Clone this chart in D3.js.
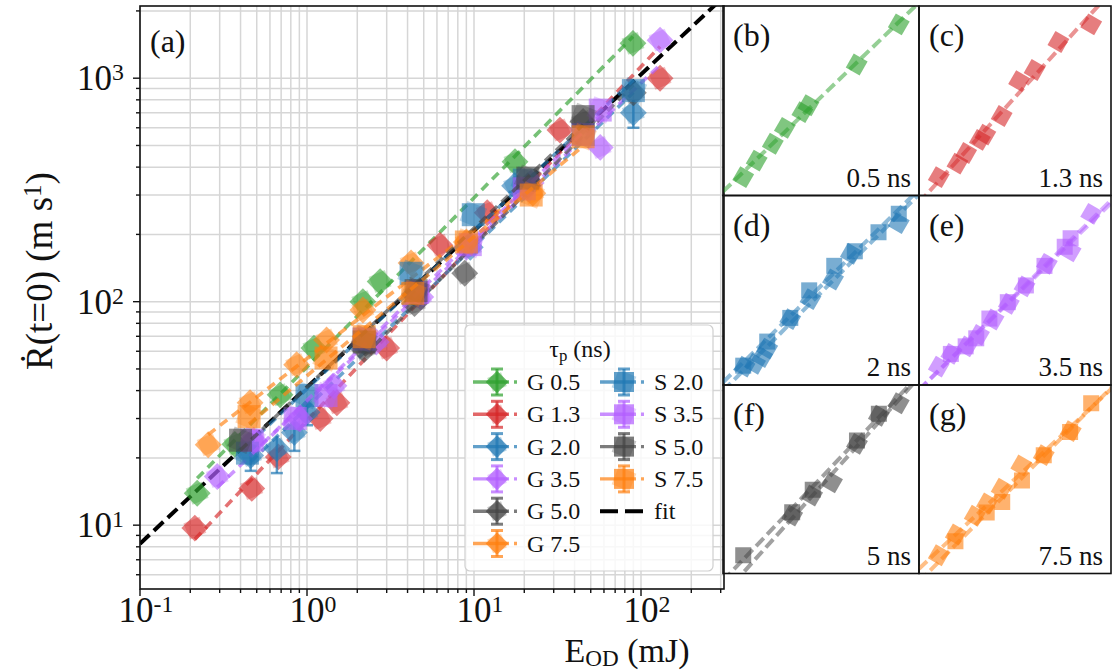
<!DOCTYPE html>
<html>
<head>
<meta charset="utf-8">
<script src="https://cdn.jsdelivr.net/npm/d3@7"></script>
<style>
  body { margin: 0; background: #fff; }
  svg { display: block; }
</style>
</head>
<body>
<div id="chart"></div>
<script>
// ---- data ----
const E_G05 = [0.22, 0.37, 0.69, 1.1, 2.16, 2.74, 17.6, 89.5];
const R_G05 = [13.9, 23, 38.3, 62, 100, 123, 423, 1432];

const E_G13 = [0.213, 0.467, 0.673, 1.2, 1.51, 3.0, 6.25, 12, 32.7, 130];
const R_G13 = [9.7, 14.6, 20.2, 30, 35.3, 62, 179, 250, 586, 1000];

const E_G20 = [0.46, 0.66, 0.84, 1.0, 2.2, 4.4, 9.5, 17.5, 90];
const R_G20 = [20.5, 22, 26, 32, 66, 108, 175, 330, 700];
const R_G20_lo = [17.5, 17.1, 21.5, 28, 60, 100, 165, 310, 600];
const R_G20_hi = [23, 25, 29, 36, 72, 116, 186, 350, 800];

const E_G35 = [0.29, 0.48, 0.9, 1.45, 2.6, 4.8, 9, 22, 57, 130];
const R_G35 = [16.5, 24, 30, 42, 66, 105, 175, 340, 490, 1480];

const E_G50 = [2.2, 4.4, 8.8, 21, 45, 90];
const R_G50 = [61, 98, 134, 330, 640, 860];

const E_G75 = [0.256, 0.456, 0.867, 1.31, 2.16, 4.2, 9.0, 22.5];
const R_G75 = [22.9, 35.3, 52.2, 67.4, 91.8, 149, 185, 306];

const E_S20 = [0.44, 1.0, 2.2, 4.2, 9.9, 20, 45, 90];
const R_S20 = [21, 38, 68, 134, 245, 350, 560, 880];

const E_S35 = [0.47, 0.85, 1.3, 2.2, 4.6, 9.5, 20, 45, 57];
const R_S35 = [24, 30, 38, 68, 110, 180, 320, 560, 720];

const E_S50 = [0.4, 2.2, 4.5, 21, 45];
const R_S50 = [24, 66, 112, 357, 673];

const E_S75 = [0.45, 1.3, 2.2, 4.3, 9.0, 22, 45];
const R_S75 = [30.6, 56, 69.7, 109, 185, 300, 547];

// global fit  R = fitA * E^fitB
const fitA = 41.4;
const fitB = 0.70;

const seriesNames  = ["G 0.5", "G 1.3", "G 2.0", "G 3.5", "G 5.0", "G 7.5", "S 2.0", "S 3.5", "S 5.0", "S 7.5"];
const seriesColors = ["#2ca02c", "#d62728", "#1f77b4", "#b25eff", "#444444", "#ff7f0e",
                      "#1f77b4", "#b25eff", "#444444", "#ff7f0e"];
const seriesE = [E_G05, E_G13, E_G20, E_G35, E_G50, E_G75, E_S20, E_S35, E_S50, E_S75];
const seriesR = [R_G05, R_G13, R_G20, R_G35, R_G50, R_G75, R_S20, R_S35, R_S50, R_S75];

const xTickPowers = [-1, 0, 1, 2];
const yTickPowers = [1, 2, 3];

// small panels: label, pulse-length tag, series shown
const panelLabels = ["(b)", "(c)", "(d)", "(e)", "(f)", "(g)"];
const panelTags   = ["0.5 ns", "1.3 ns", "2 ns", "3.5 ns", "5 ns", "7.5 ns"];
const panelSeries = [["G 0.5"], ["G 1.3"], ["G 2.0", "S 2.0"], ["G 3.5", "S 3.5"], ["G 5.0", "S 5.0"], ["G 7.5", "S 7.5"]];

const FONT = "'Liberation Serif', 'Times New Roman', Times, serif";

// ---- helpers ----
function fitLog(E, R) {
  const lx = E.map(Math.log10), ly = R.map(Math.log10);
  const mx = d3.mean(lx), my = d3.mean(ly);
  const b = d3.sum(lx.map((v, i) => (v - mx) * (ly[i] - my))) / d3.sum(lx.map(v => (v - mx) ** 2));
  return { a: Math.pow(10, my - b * mx), b };
}

const series = seriesNames.map((name, i) => ({
  name,
  color: seriesColors[i],
  shape: name[0] === "G" ? "diamond" : "square",
  pts: seriesE[i].map((e, j) => ({ e, r: seriesR[i][j] })),
  fit: fitLog(seriesE[i], seriesR[i])
}));

function markerPath(size) {
  return d3.symbol().type(d3.symbolSquare).size(size * size)();
}

function powLabel(sel, p) {
  sel.append("tspan").text("10");
  sel.append("tspan").attr("dy", "-0.42em").attr("font-size", "0.68em").text(p < 0 ? "-" + (-p) : p);
}

// ---- svg ----
const W = 1115, H = 672;
const svg = d3.select("#chart").append("svg").attr("width", W).attr("height", H)
  .attr("font-family", FONT).style("font-family", FONT).attr("fill", "#111");

// main panel (a)
const M = { left: 140, right: 724, top: 6, bottom: 589 };
const x = d3.scaleLog().domain([0.1, 314]).range([M.left, M.right]);
const y = d3.scaleLog().domain([5.18, 2104]).range([M.bottom, M.top]);

svg.append("clipPath").attr("id", "clipA")
  .append("rect").attr("x", M.left).attr("y", M.top)
  .attr("width", M.right - M.left).attr("height", M.bottom - M.top);

// grid (major + minor)
const grid = svg.append("g").attr("stroke", "#d6d6d6").attr("stroke-width", 1.5);
x.ticks().forEach(t => {
  grid.append("line").attr("x1", x(t)).attr("x2", x(t)).attr("y1", M.top).attr("y2", M.bottom);
});
y.ticks().forEach(t => {
  grid.append("line").attr("y1", y(t)).attr("y2", y(t)).attr("x1", M.left).attr("x2", M.right);
});

// ticks
const isMajor = t => Math.abs(Math.log10(t) - Math.round(Math.log10(t))) < 1e-9;
const ticks = svg.append("g").attr("stroke", "#111").attr("stroke-width", 1.4);
x.ticks().forEach(t => {
  ticks.append("line").attr("x1", x(t)).attr("x2", x(t))
    .attr("y1", M.bottom).attr("y2", M.bottom + (isMajor(t) ? 7 : 4));
});
y.ticks().forEach(t => {
  ticks.append("line").attr("y1", y(t)).attr("y2", y(t))
    .attr("x1", M.left).attr("x2", M.left - (isMajor(t) ? 7 : 4));
});

xTickPowers.forEach(p => {
  svg.append("text").attr("x", x(Math.pow(10, p)) + 6).attr("y", 622)
    .attr("text-anchor", "middle").attr("font-size", 35)
    .call(powLabel, p);
});
yTickPowers.forEach(p => {
  svg.append("text").attr("x", 124).attr("y", y(Math.pow(10, p)) + 12)
    .attr("text-anchor", "end").attr("font-size", 35)
    .call(powLabel, p);
});

// axis labels
const xl = svg.append("text").attr("x", 627).attr("y", 662).attr("text-anchor", "middle").attr("font-size", 34);
xl.append("tspan").text("E");
xl.append("tspan").attr("font-size", "0.68em").attr("dy", "0.18em").text("OD");
xl.append("tspan").attr("dy", "-0.12em").text(" (mJ)");

const yl = svg.append("text").attr("transform", "translate(52,271) rotate(-90)")
  .attr("text-anchor", "middle").attr("font-size", 37);
yl.append("tspan").text("Ṙ(t=0) (m s");
yl.append("tspan").attr("font-size", "0.68em").attr("dy", "-0.45em").text("1");
yl.append("tspan").attr("dy", "0.3em").text(")");

// data layer
const plotA = svg.append("g").attr("clip-path", "url(#clipA)");

// global fit
const fitLine = d3.line().x(d => x(d)).y(d => y(fitA * Math.pow(d, fitB)));
plotA.append("path").datum([0.1, 314]).attr("d", fitLine)
  .attr("fill", "none").attr("stroke", "#000").attr("stroke-width", 4)
  .attr("stroke-dasharray", "13,6");

series.forEach(s => {
  const g = plotA.append("g");
  const [e0, e1] = d3.extent(s.pts, d => d.e);
  g.append("path").datum([e0, e1])
    .attr("d", d3.line().x(d => x(d)).y(d => y(s.fit.a * Math.pow(d, s.fit.b))))
    .attr("fill", "none").attr("stroke", s.color).attr("stroke-width", 3.6)
    .attr("stroke-opacity", 0.65).attr("stroke-dasharray", "9,6");
  if (s.name === "G 2.0") {
    g.selectAll("line.err").data(s.pts).join("line")
      .attr("x1", d => x(d.e)).attr("x2", d => x(d.e))
      .attr("y1", (d, j) => y(R_G20_lo[j])).attr("y2", (d, j) => y(R_G20_hi[j]))
      .attr("stroke", s.color).attr("stroke-width", 2.5).attr("stroke-opacity", 0.7);
    g.selectAll("line.cap").data(s.pts).join("line")
      .attr("x1", d => x(d.e) - 6).attr("x2", d => x(d.e) + 6)
      .attr("y1", (d, j) => y(R_G20_lo[j])).attr("y2", (d, j) => y(R_G20_lo[j]))
      .attr("stroke", s.color).attr("stroke-width", 2.5).attr("stroke-opacity", 0.7);
  }
  const size = s.shape === "diamond" ? 19 : 23;
  const rot = s.shape === "diamond" ? 45 : 0;
  // soft halo (repeat shots drawn slightly rotated) plus main marker
  g.selectAll("path.h").data(s.pts).join("path")
    .attr("d", markerPath(size * 0.92))
    .attr("transform", d => `translate(${x(d.e)},${y(d.r)}) rotate(${rot + 22})`)
    .attr("fill", s.color).attr("fill-opacity", 0.3);
  g.selectAll("path.m").data(s.pts).join("path")
    .attr("d", markerPath(size))
    .attr("transform", d => `translate(${x(d.e)},${y(d.r)}) rotate(${rot})`)
    .attr("fill", s.color).attr("fill-opacity", 0.58);
});

// frame
svg.append("rect").attr("x", M.left).attr("y", M.top)
  .attr("width", M.right - M.left).attr("height", M.bottom - M.top)
  .attr("fill", "none").attr("stroke", "#111").attr("stroke-width", 1.6);

svg.append("text").attr("x", 150).attr("y", 52).attr("font-size", 32).text("(a)");

// legend
const lg = svg.append("g");
lg.append("rect").attr("x", 465).attr("y", 325).attr("width", 248).attr("height", 246)
  .attr("rx", 5).attr("fill", "#fff").attr("fill-opacity", 0.82)
  .attr("stroke", "#cfcfcf").attr("stroke-width", 1.2);
const lt = lg.append("text").attr("x", 580).attr("y", 357).attr("text-anchor", "middle").attr("font-size", 24);
lt.append("tspan").text("τ");
lt.append("tspan").attr("font-size", "0.7em").attr("dy", "0.25em").text("p");
lt.append("tspan").attr("dy", "-0.18em").text(" (ns)");

const legendItems = series.map(s => s.name).concat(["fit"]);
legendItems.forEach((name, k) => {
  const col = k < 6 ? 0 : 1;
  const row = k < 6 ? k : k - 6;
  const hx = col === 0 ? 473 : 600;
  const hy = 382 + row * 32.3;
  const item = lg.append("g");
  if (name === "fit") {
    item.append("line").attr("x1", hx).attr("x2", hx + 47).attr("y1", hy).attr("y2", hy)
      .attr("stroke", "#000").attr("stroke-width", 4).attr("stroke-dasharray", "18,7");
  } else {
    const s = series.find(d => d.name === name);
    item.append("line").attr("x1", hx).attr("x2", hx + 47).attr("y1", hy).attr("y2", hy)
      .attr("stroke", s.color).attr("stroke-width", 3.4).attr("stroke-opacity", 0.7)
      .attr("stroke-dasharray", "36,5,3,5");
    item.append("line").attr("x1", hx + 24).attr("x2", hx + 24).attr("y1", hy - 13).attr("y2", hy + 13)
      .attr("stroke", s.color).attr("stroke-width", 3).attr("stroke-opacity", 0.7);
    [hy - 13, hy + 13].forEach(cy => item.append("line")
      .attr("x1", hx + 18).attr("x2", hx + 30).attr("y1", cy).attr("y2", cy)
      .attr("stroke", s.color).attr("stroke-width", 3).attr("stroke-opacity", 0.7));
    const rot = s.shape === "diamond" ? 45 : 0;
    item.append("path").attr("d", markerPath(s.shape === "diamond" ? 15 : 19))
      .attr("transform", `translate(${hx + 24},${hy}) rotate(${rot + 22})`)
      .attr("fill", s.color).attr("fill-opacity", 0.3);
    item.append("path").attr("d", markerPath(s.shape === "diamond" ? 16 : 20))
      .attr("transform", `translate(${hx + 24},${hy}) rotate(${rot})`)
      .attr("fill", s.color).attr("fill-opacity", 0.7);
  }
  item.append("text").attr("x", hx + 54).attr("y", hy + 8).attr("font-size", 24).text(name);
});

// small panels (b)-(g)
const colX = [723, 919, 1111];
const rowY = [6, 195.5, 385, 573.5];
panelLabels.forEach((lab, p) => {
  const c = p % 2, r = Math.floor(p / 2);
  const px0 = colX[c], px1 = colX[c + 1], py0 = rowY[r], py1 = rowY[r + 1];
  const ss = panelSeries[p].map(n => series.find(s => s.name === n));
  const all = ss.flatMap(s => s.pts);
  const [lx0, lx1] = d3.extent(all, d => Math.log10(d.e));
  const [ly0, ly1] = d3.extent(all, d => Math.log10(d.r));
  const padX = (lx1 - lx0) * 0.13, padY = (ly1 - ly0) * 0.12;
  const sx = d3.scaleLog().domain([Math.pow(10, lx0 - padX), Math.pow(10, lx1 + padX)]).range([px0, px1]);
  const sy = d3.scaleLog().domain([Math.pow(10, ly0 - padY), Math.pow(10, ly1 + padY)]).range([py1, py0]);

  const cid = "clip" + p;
  svg.append("clipPath").attr("id", cid).append("rect")
    .attr("x", px0).attr("y", py0).attr("width", px1 - px0).attr("height", py1 - py0);
  const g = svg.append("g").attr("clip-path", `url(#${cid})`);

  ss.forEach(s => {
    g.append("path").datum(sx.domain())
      .attr("d", d3.line().x(d => sx(d)).y(d => sy(s.fit.a * Math.pow(d, s.fit.b))))
      .attr("fill", "none").attr("stroke", s.color).attr("stroke-width", 4)
      .attr("stroke-opacity", 0.5).attr("stroke-dasharray", "11,5");
  });
  ss.forEach(s => {
    g.selectAll(null).data(s.pts).join("path")
      .attr("d", markerPath(16))
      .attr("transform", d => `translate(${sx(d.e)},${sy(d.r)}) rotate(${s.shape === "diamond" ? 30 : 0})`)
      .attr("fill", s.color).attr("fill-opacity", 0.6);
  });

  svg.append("rect").attr("x", px0).attr("y", py0).attr("width", px1 - px0).attr("height", py1 - py0)
    .attr("fill", "none").attr("stroke", "#111").attr("stroke-width", 1.6);
  svg.append("text").attr("x", px0 + 10).attr("y", py0 + 40).attr("font-size", 32).text(lab);
  svg.append("text").attr("x", px1 - 8).attr("y", py1 - 9).attr("text-anchor", "end")
    .attr("font-size", 27).text(panelTags[p]);
});
</script>
</body>
</html>
